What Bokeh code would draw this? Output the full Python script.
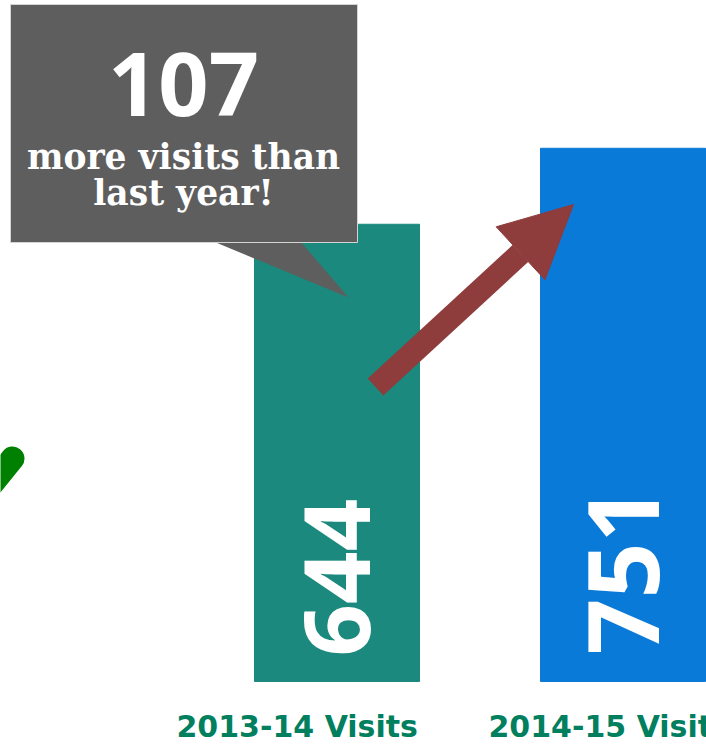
import math
from bokeh.plotting import figure
from bokeh.models import Range1d, Arrow, NormalHead
from bokeh.core.properties import value
from bokeh.embed import file_html
from bokeh.resources import INLINE

# ---- data ----
categories = ["2013-14 Visits", "2014-15 Visits"]
visits = [644, 751]
bar_colors = ["#1B897D", "#0A7AD8"]
difference = visits[1] - visits[0]
callout_lines = ["more visits than", "last year!"]

# ---- layout helpers (picture pixels -> data units) ----
W, H = 706, 746
X_UNIT = 286.0
x_start = 1 - 336.5 / X_UNIT
x_end = x_start + W / X_UNIT
Y_BASE = 681.0
YS = 0.71
y_end = Y_BASE / YS
y_start = (Y_BASE - H) / YS


def px2x(px):
    return x_start + px / X_UNIT


def px2y(py):
    return (Y_BASE - py) / YS


p = figure(width=W, height=H, x_range=Range1d(x_start, x_end),
           y_range=Range1d(y_start, y_end), output_backend="svg",
           toolbar_location=None, min_border=0, outline_line_color=None,
           background_fill_color="white", border_fill_color="white")
p.xaxis.visible = False
p.yaxis.visible = False
p.xgrid.visible = False
p.ygrid.visible = False

xs = [i + 1 for i in range(len(visits))]

# bars
p.vbar(x=xs, top=visits, bottom=0, width=165 / X_UNIT, color=bar_colors)

# rotated value labels
num_sizes = ["92px", "98px"]
num_offsets = [-25, -27]
for xi, v, fs, off in zip(xs, visits, num_sizes, num_offsets):
    p.text(x=[xi], y=[0], text=[str(v)],
           angle=math.pi / 2, text_align="left", text_baseline="middle",
           y_offset=off, text_color="white", text_font=value("Open Sans"),
           text_font_style="bold", text_font_size=fs)

# category labels
p.text(x=[px2x(176), px2x(488)], y=[px2y(726)] * 2, text=categories,
       text_align="left", text_baseline="alphabetic", text_color="#017F5E",
       text_font=value("DejaVu Sans"), text_font_style="bold",
       text_font_size="30px")

# green check fragment
p.line(x=[px2x(12), px2x(-30)], y=[px2y(458), px2y(510)], line_width=24,
       line_cap="round", line_color="#008000")

# callout
tail_x = [px2x(213), px2x(300), px2x(348)]
tail_y = [px2y(241), px2y(241), px2y(297)]
p.patch(tail_x, tail_y, fill_color="#5E5E5E", line_color=None)
p.quad(left=[px2x(10)], right=[px2x(357)], top=[px2y(4)], bottom=[px2y(242)],
       fill_color="#5E5E5E", line_color="#D4D4D4", line_width=1)
p.text(x=[px2x(183)], y=[px2y(84)], text=[str(difference)],
       text_align="center", text_baseline="alphabetic", text_color="white",
       text_font=value("Open Sans"), text_font_style="bold",
       text_font_size="88px")
p.text(x=[px2x(183)] * 2, y=[px2y(156), px2y(192)], text=callout_lines,
       text_align="center", text_baseline="alphabetic", text_color="white",
       text_font=value("DejaVu Serif"), text_font_style="bold",
       text_font_size="34.5px")

# arrow
arrow_color = "#8E3C3C"
p.add_layout(Arrow(end=NormalHead(size=72, fill_color=arrow_color,
                                  line_color=arrow_color),
                   x_start=px2x(375), y_start=px2y(386.5),
                   x_end=px2x(573), y_end=px2y(204),
                   line_width=23, line_color=arrow_color))

open("out.html", "w").write(file_html(p, INLINE))
